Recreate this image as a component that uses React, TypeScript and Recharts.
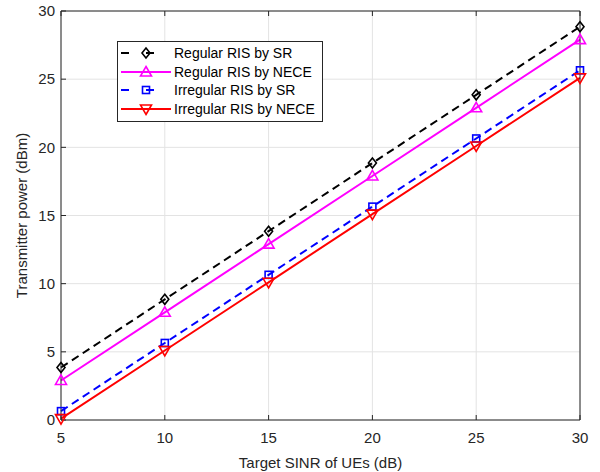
import React from "react";
import {
  LineChart,
  Line,
  XAxis,
  YAxis,
  CartesianGrid,
} from "recharts";

// target SINR (dB) and transmit power (dBm)
const sinr = [5, 10, 15, 20, 25, 30];
const regularSR = [3.85, 8.85, 13.85, 18.85, 23.85, 28.85];
const regularNECE = [2.9, 7.9, 12.9, 17.9, 22.9, 27.9];
const irregularSR = [0.65, 5.65, 10.65, 15.65, 20.65, 25.65];
const irregularNECE = [0.1, 5.1, 10.1, 15.1, 20.1, 25.1];
const xTicks = [5, 10, 15, 20, 25, 30];
const yTicks = [0, 5, 10, 15, 20, 25, 30];

const data = sinr.map((s, i) => ({
  s,
  rsr: regularSR[i],
  rnece: regularNECE[i],
  isr: irregularSR[i],
  inece: irregularNECE[i],
}));

const FONT = "'Liberation Sans', Arial, sans-serif";
const AXIS = "#262626";

type Shape = "diamond" | "tri" | "square" | "tridown";

function Marker({ cx, cy, shape, color }: { cx: number; cy: number; shape: Shape; color: string }) {
  const sw = 1.6;
  if (shape === "diamond")
    return <path d={`M${cx},${cy - 5} L${cx + 4},${cy} L${cx},${cy + 5} L${cx - 4},${cy} Z`} fill="none" stroke={color} strokeWidth={sw} />;
  if (shape === "square")
    return <rect x={cx - 3.5} y={cy - 3.5} width={7} height={7} fill="none" stroke={color} strokeWidth={sw} />;
  if (shape === "tri")
    return <path d={`M${cx},${cy - 5.5} L${cx + 5.5},${cy + 4} L${cx - 5.5},${cy + 4} Z`} fill="none" stroke={color} strokeWidth={sw} />;
  return <path d={`M${cx},${cy + 5.5} L${cx + 5.5},${cy - 4} L${cx - 5.5},${cy - 4} Z`} fill="none" stroke={color} strokeWidth={sw} />;
}

const series = [
  { key: "rsr", name: "Regular RIS by SR", color: "#000000", dash: "8 5", shape: "diamond" as Shape },
  { key: "rnece", name: "Regular RIS by NECE", color: "#ff00ff", dash: undefined, shape: "tri" as Shape },
  { key: "isr", name: "Irregular RIS by SR", color: "#0000ff", dash: "8 5", shape: "square" as Shape },
  { key: "inece", name: "Irregular RIS by NECE", color: "#ff0000", dash: undefined, shape: "tridown" as Shape },
];

function LegendBox() {
  return (
    <div
      style={{
        position: "absolute",
        left: 117,
        top: 41,
        border: "1px solid #262626",
        background: "#fff",
        width: 206,
        padding: "2px 0 3px 0",
        fontFamily: FONT,
        fontSize: 14,
        color: "#000",
        boxSizing: "border-box",
      }}
    >
      {series.map((s) => (
        <div key={s.key} style={{ display: "flex", alignItems: "center", height: 18.5 }}>
          <svg width={56} height={16} style={{ flex: "none" }}>
            <line x1={3} y1={8} x2={53} y2={8} stroke={s.color} strokeWidth={2} strokeDasharray={s.dash ? "8 17" : undefined} />
            <Marker cx={28} cy={8} shape={s.shape} color={s.color} />
          </svg>
          <span style={{ marginLeft: 0 }}>{s.name}</span>
        </div>
      ))}
    </div>
  );
}

export default function App() {
  return (
    <div style={{ position: "absolute", left: 0, top: 0, width: 600, height: 472, background: "#fff" }}>
      <LineChart
        width={600}
        height={472}
        data={data}
        margin={{ top: 10, right: 19, bottom: 0, left: 0 }}
      >
        <CartesianGrid stroke="#e3e3e3" strokeWidth={1} />
        <XAxis
          dataKey="s"
          type="number"
          domain={[5, 30]}
          ticks={xTicks}
          stroke={AXIS}
          tickSize={-5}
          tickMargin={17}
          height={52}
          tick={{ fill: AXIS, fontFamily: FONT, fontSize: 15 }}
          label={{ value: "Target SINR of UEs (dB)", position: "insideBottom", offset: 4, fill: AXIS, fontFamily: FONT, fontSize: 15 }}
        />
        <XAxis
          xAxisId="top"
          dataKey="s"
          type="number"
          orientation="top"
          domain={[5, 30]}
          ticks={xTicks}
          stroke={AXIS}
          tickSize={-5}
          height={1}
          tick={() => <g />}
        />
        <YAxis
          type="number"
          domain={[0, 30]}
          ticks={yTicks}
          stroke={AXIS}
          tickSize={-5}
          tickMargin={11}
          width={61}
          tick={{ fill: AXIS, fontFamily: FONT, fontSize: 15 }}
          label={{ value: "Transmitter power (dBm)", angle: -90, position: "insideLeft", offset: 22, fill: AXIS, fontFamily: FONT, fontSize: 15, style: { textAnchor: "middle" } }}
        />
        <YAxis
          yAxisId="right"
          orientation="right"
          type="number"
          domain={[0, 30]}
          ticks={yTicks}
          stroke={AXIS}
          tickSize={-5}
          width={1}
          tick={() => <g />}
        />
        {series.map((s) => (
          <Line
            key={s.key}
            dataKey={s.key}
            name={s.name}
            stroke={s.color}
            strokeWidth={2}
            strokeDasharray={s.dash}
            isAnimationActive={false}
            dot={(p: any) => <Marker key={`${s.key}-${p.index}`} cx={p.cx} cy={p.cy} shape={s.shape} color={s.color} />}
            activeDot={false}
          />
        ))}
      </LineChart>
      <LegendBox />
    </div>
  );
}
